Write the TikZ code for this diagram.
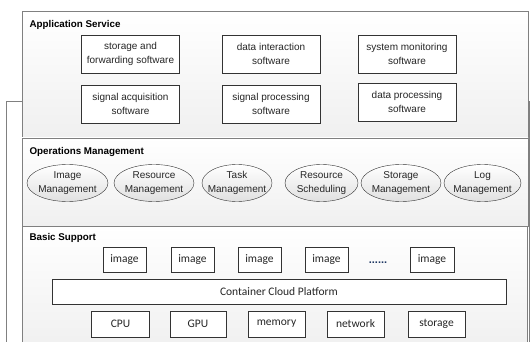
\documentclass[tikz,border=0pt]{standalone}
\usepackage{fontspec}
\setmainfont{Liberation Sans}
\newfontfamily\calibri{Carlito}
\definecolor{framegray}{RGB}{128,128,128}
\definecolor{linegray}{RGB}{51,51,51}
\definecolor{dotblue}{RGB}{31,56,100}

\begin{document}
\begin{tikzpicture}[x=1pt, y=-1pt,
    panel/.style={draw=framegray, top color=white, bottom color=black!6},
    layertitle/.style={anchor=west, font=\fontsize{9.8}{12}\selectfont\bfseries},
    softbox/.style={draw=linegray, fill=white, minimum width=98pt, minimum height=38pt,
        inner sep=0pt, align=center, text=black!85, font=\fontsize{10}{14}\selectfont},
    mgmt/.style={draw=linegray, top color=white, bottom color=black!12},
    mgmttext/.style={align=center, text=black!85, font=\fontsize{10}{14}\selectfont},
    basebox/.style={draw=linegray, fill=white, inner sep=0pt, minimum height=25pt,
        text=black!85, font=\calibri\fontsize{11.5}{13}\selectfont}]
    \useasboundingbox (0,0) rectangle (530,342);

    % Outer frame behind the layers
    \draw[framegray, fill=white] (6,101) rectangle (529,350);

    % Application Service
    \draw[panel] (22,11) rectangle (528,138);
    \node[layertitle] (apptitle) at (26,24.5) {Application Service};
    \node[softbox] (storefwd) at (130.5,54) {storage and\\forwarding software};
    \node[softbox] (datainter) at (271,54) {data interaction\\software};
    \node[softbox] (sysmon) at (407,54) {system monitoring\\software};
    \node[softbox] (sigacq) at (130.5,104) {signal acquisition\\software};
    \node[softbox] (sigproc) at (271,104) {signal processing\\software};
    \node[softbox] (dataproc) at (407,102) {data processing\\software};

    % Operations Management
    \draw[panel] (22,138) rectangle (528,226);
    \node[layertitle] (opstitle) at (26,152) {Operations Management};
    \draw[mgmt] (67.5,183) ellipse (40.5 and 18.5);
    \node[mgmttext] (imgmgmt) at (67.5,183) {Image\\Management};
    \draw[mgmt] (154,183) ellipse (40 and 18.5);
    \node[mgmttext] (resmgmt) at (154,183) {Resource\\Management};
    \draw[mgmt] (237,183) ellipse (35 and 18.5);
    \node[mgmttext] (taskmgmt) at (237,183) {Task\\Management};
    \draw[mgmt] (321.5,183) ellipse (36.5 and 18.5);
    \node[mgmttext] (ressched) at (321.5,183) {Resource\\Scheduling};
    \draw[mgmt] (401,183) ellipse (40 and 18.5);
    \node[mgmttext] (stormgmt) at (401,183) {Storage\\Management};
    \draw[mgmt] (482.5,183) ellipse (38.5 and 18.5);
    \node[mgmttext] (logmgmt) at (482.5,183) {Log\\Management};

    % Basic Support
    \draw[panel] (22,226) rectangle (527,350);
    \node[layertitle] (basetitle) at (26,237.5) {Basic Support};
    \node[basebox, minimum width=43pt] (img1) at (124.5,259.5) {image};
    \node[basebox, minimum width=43pt] (img2) at (192.5,259.5) {image};
    \node[basebox, minimum width=43pt] (img3) at (259.5,259.5) {image};
    \node[basebox, minimum width=43pt] (img4) at (326.5,259.5) {image};
    \node[anchor=base, text=dotblue, font=\fontsize{11}{13}\selectfont\bfseries] (imgdots) at (378,263) {......};
    \node[basebox, minimum width=44pt] (img5) at (432,259.5) {image};
    \node[basebox, minimum width=454pt] (ccp) at (279,291.5) {Container Cloud Platform};
    \node[basebox, minimum width=58pt, minimum height=26pt] (cpu) at (120.5,324) {CPU};
    \node[basebox, minimum width=56pt, minimum height=26pt] (gpu) at (198,324) {GPU};
    \node[basebox, minimum width=57pt, minimum height=26pt] (memory) at (276.5,324) {memory};
    \node[basebox, minimum width=57pt, minimum height=26pt] (network) at (355.5,324) {network};
    \node[basebox, minimum width=57pt, minimum height=26pt] (storage) at (436.5,324) {storage};
\end{tikzpicture}
\end{document}
